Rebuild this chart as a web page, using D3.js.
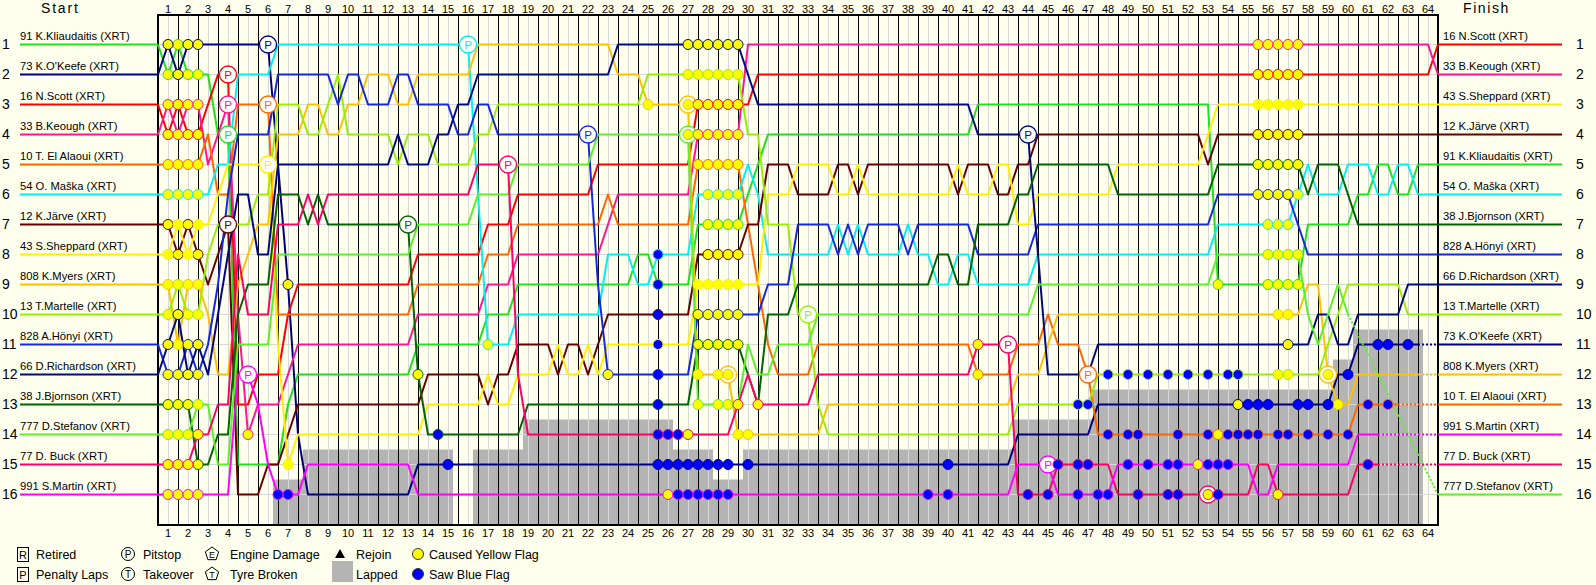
<!DOCTYPE html>
<html>
<head>
<meta charset="utf-8">
<script src="https://cdn.jsdelivr.net/npm/d3@7"></script>
<style>
  body { margin: 0; background: #FFFFEE; }
  svg text { font-family: "Liberation Sans", Arial, sans-serif; }
</style>
</head>
<body>
<div id="chart"></div>
<script>
// grid order (start position 1..16)
const driverLabels = [
  "91 K.Kliaudaitis (XRT)", "73 K.O'Keefe (XRT)", "16 N.Scott (XRT)", "33 B.Keough (XRT)",
  "10 T. El Alaoui (XRT)", "54 O. Maška (XRT)", "12 K.Järve (XRT)", "43 S.Sheppard (XRT)",
  "808 K.Myers (XRT)", "13 T.Martelle (XRT)", "828 A.Hönyi (XRT)", "66 D.Richardson (XRT)",
  "38 J.Bjornson (XRT)", "777 D.Stefanov (XRT)", "77 D. Buck (XRT)", "991 S.Martin (XRT)"
];
const driverColors = [
  "#1EE01E", "#000080", "#FF0000", "#FF1493", "#FF6600", "#00F0F0", "#660000", "#FFEE00",
  "#FFC000", "#99EE00", "#1428DC", "#000A80", "#006400", "#5CF02A", "#FF0066", "#FF00FF"
];
const finishPos = [5, 11, 1, 2, 13, 6, 4, 3, 12, 10, 8, 9, 7, 16, 15, 14];
// last half-lap sample driven (lapped cars stop early)
const lastSample = [128, 126, 128, 128, 124, 128, 128, 128, 126, 128, 128, 128, 128, 119, 122, 122];

// position changes per driver: [half-lap sample, position]
const positionChanges = [
  [[0,1],[1,2],[2,1],[3,2],[6,4],[8,15],[13,13],[14,12],[26,11],[33,10],[36,9],[48,8],[50,9],[54,7],[59,6],[60,5],[61,4],[82,3],[106,9],[115,7],[120,6],[122,5],[124,6],[126,5]],
  [[0,2],[1,1],[2,2],[3,1],[12,5],[13,9],[14,14],[15,16],[26,15],[86,14],[94,13],[118,12],[120,11]],
  [[0,3],[1,4],[2,3],[3,4],[5,3],[6,2],[8,13],[10,12],[13,10],[14,9],[26,8],[33,7],[36,6],[44,5],[54,3],[60,2],[128,1]],
  [[0,4],[1,3],[2,4],[3,3],[5,5],[6,4],[7,3],[8,10],[9,14],[10,13],[13,12],[14,11],[26,10],[33,9],[36,8],[45,7],[46,6],[54,4],[59,1],[128,2]],
  [[0,5],[5,4],[6,6],[8,3],[12,10],[26,9],[33,8],[36,7],[45,6],[46,7],[54,5],[59,7],[60,9],[61,11],[62,12],[66,11],[82,12],[86,11],[89,10],[90,11],[93,12],[94,14],[120,13]],
  [[0,6],[6,5],[8,2],[12,1],[32,6],[33,11],[36,10],[45,8],[48,9],[50,8],[54,6],[59,5],[60,6],[61,8],[68,7],[69,8],[70,7],[71,8],[75,7],[76,8],[78,9],[80,8],[82,9],[88,8],[106,7],[114,6],[115,5],[116,6],[119,5],[122,6],[124,5],[126,6]],
  [[0,7],[2,8],[3,7],[4,8],[5,9],[6,8],[7,7],[8,16],[11,15],[13,14],[14,13],[27,12],[33,13],[34,12],[36,11],[40,12],[41,11],[43,12],[44,11],[45,10],[54,8],[59,7],[61,5],[64,6],[68,5],[70,6],[71,5],[80,6],[81,5],[84,6],[86,5],[88,4],[105,5],[106,4]],
  [[0,8],[2,7],[3,8],[4,7],[6,6],[7,5],[12,11],[13,15],[14,14],[27,13],[33,12],[34,13],[36,12],[40,11],[41,12],[43,11],[44,12],[45,11],[54,9],[61,6],[64,5],[68,6],[70,5],[71,6],[80,5],[81,6],[84,5],[86,7],[88,6],[96,5],[105,4],[106,3]],
  [[0,9],[2,11],[3,9],[5,10],[6,12],[8,9],[9,8],[10,7],[12,4],[15,3],[17,4],[19,3],[21,2],[24,3],[26,2],[32,1],[46,2],[49,3],[54,12],[58,14],[67,13],[86,12],[89,11],[90,10],[115,9],[117,12],[118,13],[120,12]],
  [[0,10],[2,9],[3,10],[5,8],[6,7],[10,6],[12,3],[15,4],[17,3],[18,2],[19,4],[24,5],[25,4],[28,5],[32,4],[34,3],[49,2],[59,4],[61,7],[64,10],[66,13],[67,14],[86,13],[94,12],[117,11],[118,10],[119,9],[125,10]],
  [[0,11],[1,12],[3,11],[4,12],[5,11],[6,9],[7,6],[8,4],[12,2],[18,3],[19,2],[21,3],[24,2],[26,3],[30,4],[32,3],[34,4],[44,9],[45,12],[54,10],[61,9],[64,7],[68,8],[69,7],[70,8],[71,7],[75,8],[76,7],[82,8],[88,7],[106,6],[114,7],[115,8]],
  [[0,12],[1,11],[2,10],[3,12],[4,11],[5,12],[6,10],[7,8],[8,6],[10,8],[12,5],[24,4],[25,5],[28,4],[30,3],[32,2],[46,1],[59,2],[60,3],[82,4],[88,8],[89,12],[94,11],[116,10],[118,11],[120,10],[125,9]],
  [[0,13],[4,15],[6,14],[8,10],[9,9],[12,6],[15,7],[16,6],[17,7],[26,12],[27,14],[37,13],[54,11],[59,12],[60,13],[61,10],[64,9],[78,8],[80,9],[82,7],[86,6],[88,5],[96,6],[106,5],[115,6],[116,5],[119,6],[120,7]],
  [[0,14],[4,13],[6,15],[8,11],[12,8],[26,7],[32,6],[36,5],[44,4],[54,13],[59,11],[60,12],[62,11],[66,10],[88,9],[106,8],[115,10],[116,11],[117,10],[118,9],[119,10]],
  [[0,15],[4,14],[6,13],[8,8],[9,10],[12,7],[15,6],[16,7],[17,6],[32,5],[36,12],[37,14],[58,13],[59,12],[60,13],[66,12],[82,11],[86,16],[90,15],[96,16],[110,15],[112,16],[120,15]],
  [[0,16],[8,12],[10,13],[11,15],[12,16],[15,15],[26,16],[86,15],[90,16],[96,15],[110,16],[112,15],[120,14]]
];

// [driver, sample]
const pitStops = [[0,7],[2,7],[3,7],[6,7],[15,9],[1,11],[4,11],[7,11],[12,25],[5,31],[14,35],[10,43],
  [8,53],[13,53],[8,57],[9,65],[14,85],[11,87],[15,89],[4,93],[14,105],[8,117]];

const startYellow = [1, 2, 3, 4];
const yellowFlags = [
  [55,56,57,58,106,111,112,113,114],
  [13,108],
  [54,55,56,57,58,110,111,112,113,114],
  [9,54,55,56,57,58,110,111,112,113,114],
  [54,55,56,57,58,82,106],
  [33,55,56,57,58,111,112,113,114],
  [55,56,57,58,110,111,112,113,114],
  [13,54,55,56,57,58,110,111,112,113,114],
  [49,53,54,56,57,58,59,112,113,117,118],
  [53,54,55,56,57,58,112,113],
  [45,54,55,56,57,58,110,111,112,113],
  [53,54,55,56,57,58,113],
  [26,54,55,56,57,58,110,111,112,113,114],
  [53,54,56,57,111,112,113,114],
  [53,58,60,82,105,112],
  [51,104]
];
const blueFlags = [
  [50],
  [29,50,51,52,53,54,55,56,57,59,79,109,110,111,114,115,117,119,122,123,125],
  [], [],
  [95,97,98,102,105,107,108,109,110,112,113,115,117,119,121,123],
  [50], [50], [50], [],
  [92,93,95,97,99,101,103,105,107,108],
  [50], [],
  [28,50], [],
  [50,51,52,87,89,90,92,93,98,101,102,106,121],
  [12,13,52,53,54,55,56,57,77,79,92,94,95,97,99,101,102,105,106,107]
];

// lapped area: [first sample, last sample, first lapped position]
const lappedBlocks = [[12,14,16],[15,29,15],[32,36,15],[37,51,14],[52,55,15],[56,58,16],
  [59,85,15],[86,93,14],[94,117,13],[118,119,12],[120,126,11]];

const laps = d3.range(1, 65);

const width = 1596, height = 585;
const svg = d3.select("#chart").append("svg")
  .attr("width", width).attr("height", height);

svg.append("rect").attr("width", width).attr("height", height).attr("fill", "#FFFFEE");

const x = d3.scaleLinear().domain([0, 128]).range([158, 1438]);
const y = d3.scaleLinear().domain([1, 16]).range([44.5, 494.5]);
const lapBand = d3.scaleBand().domain(laps).range([158, 1438]);

function expand(changes) {
  const arr = [];
  let cur = changes[0][1], k = 0;
  for (let i = 0; i <= 128; i++) {
    while (k < changes.length && changes[k][0] <= i) { cur = changes[k][1]; k++; }
    arr.push(cur);
  }
  return arr;
}
const positions = positionChanges.map(expand);

// lapped blocks
svg.append("g").selectAll("rect")
  .data(lappedBlocks)
  .join("rect")
  .attr("x", d => x(d[0] - 0.5))
  .attr("width", d => x(d[1] + 0.5) - x(d[0] - 0.5))
  .attr("y", d => y(d[2]) - 15)
  .attr("height", d => 525 - (y(d[2]) - 15))
  .attr("fill", "#B4B4B4");

// grid
const grid = svg.append("g");
grid.selectAll("line.row")
  .data(d3.range(1, 17))
  .join("line")
  .attr("class", "row")
  .attr("x1", 158).attr("x2", 1438)
  .attr("y1", d => Math.floor(y(d)) + 0.5).attr("y2", d => Math.floor(y(d)) + 0.5)
  .attr("stroke", "#D8D8D8");
grid.selectAll("line.mid")
  .data(laps)
  .join("line")
  .attr("class", "mid")
  .attr("x1", d => lapBand(d) + 10.5).attr("x2", d => lapBand(d) + 10.5)
  .attr("y1", 15).attr("y2", 525)
  .attr("stroke", "#D8D8D8");
grid.selectAll("line.lap")
  .data(laps.slice(0, 63))
  .join("line")
  .attr("class", "lap")
  .attr("x1", d => x(2 * d) + 0.5).attr("x2", d => x(2 * d) + 0.5)
  .attr("y1", 15).attr("y2", 525)
  .attr("stroke", "#000");

svg.append("rect")
  .attr("x", 158).attr("y", 15).attr("width", 1280).attr("height", 510)
  .attr("fill", "none").attr("stroke", "#000").attr("stroke-width", 2);

// lap axes
const axisFont = g => g.selectAll("text")
  .attr("font-size", 11).attr("font-family", "Liberation Sans, Arial, sans-serif").attr("fill", "#000");
svg.append("g")
  .attr("transform", "translate(0,12.5)")
  .call(d3.axisTop(lapBand).tickSize(0).tickPadding(0))
  .call(g => g.select(".domain").remove())
  .call(axisFont);
svg.append("g")
  .attr("transform", "translate(0,529)")
  .call(d3.axisBottom(lapBand).tickSize(0).tickPadding(0))
  .call(g => g.select(".domain").remove())
  .call(axisFont);

svg.append("text").attr("x", 41).attr("y", 13).attr("font-size", 14)
  .style("letter-spacing", "1.8px").text("Start");
svg.append("text").attr("x", 1463).attr("y", 13).attr("font-size", 14)
  .style("letter-spacing", "1.6px").text("Finish");

// position numbers
svg.append("g").selectAll("text")
  .data(d3.range(1, 17))
  .join("text")
  .attr("x", 2).attr("y", d => y(d) + 4)
  .attr("font-size", 14)
  .text(d => d);
svg.append("g").selectAll("text")
  .data(d3.range(1, 17))
  .join("text")
  .attr("x", 1576).attr("y", d => y(d) + 4)
  .attr("font-size", 14)
  .text(d => d);

// start / finish lead-in lines and labels
const drivers = d3.range(16);
svg.append("g").selectAll("line")
  .data(drivers)
  .join("line")
  .attr("x1", 20).attr("x2", 158)
  .attr("y1", d => y(d + 1)).attr("y2", d => y(d + 1))
  .attr("stroke", d => driverColors[d]).attr("stroke-width", 2);
svg.append("g").selectAll("text")
  .data(drivers)
  .join("text")
  .attr("x", 20).attr("y", d => y(d + 1) - 4.5)
  .attr("font-size", 11.2)
  .text(d => driverLabels[d]);
svg.append("g").selectAll("line")
  .data(drivers)
  .join("line")
  .attr("x1", 1438).attr("x2", 1562)
  .attr("y1", d => y(finishPos[d])).attr("y2", d => y(finishPos[d]))
  .attr("stroke", d => driverColors[d]).attr("stroke-width", 2);
svg.append("g").selectAll("text")
  .data(drivers)
  .join("text")
  .attr("x", 1443).attr("y", d => y(finishPos[d]) - 4.5)
  .attr("font-size", 11.2)
  .text(d => driverLabels[d]);

// driver lines
const line = d3.line().x(d => x(d[0])).y(d => y(d[1]));
const lineG = svg.append("g").attr("fill", "none").attr("stroke-width", 2);
drivers.forEach(d => {
  const pts = d3.range(0, lastSample[d] + 1).map(i => [i, positions[d][i]]);
  lineG.append("path")
    .attr("d", line(pts))
    .attr("stroke", driverColors[d])
    .attr("stroke-linejoin", "round");
  if (lastSample[d] < 128) {
    lineG.append("path")
      .attr("d", line([[lastSample[d], positions[d][lastSample[d]]], [128, finishPos[d]]]))
      .attr("stroke", driverColors[d])
      .attr("stroke-dasharray", "2,2");
  }
});

// pit stops
const pitG = svg.append("g").selectAll("g")
  .data(pitStops)
  .join("g")
  .attr("transform", d => `translate(${x(d[1])},${y(positions[d[0]][d[1]])})`);
pitG.append("circle").attr("r", 8.5)
  .attr("fill", "#FFFFFF")
  .attr("stroke", d => driverColors[d[0]]).attr("stroke-width", 1.3);
pitG.append("text").attr("text-anchor", "middle").attr("y", 4)
  .attr("font-size", 11.5)
  .attr("fill", d => driverColors[d[0]])
  .text("P");

// flags
const yellowDots = [], blueDots = [];
drivers.forEach(d => {
  startYellow.concat(yellowFlags[d]).forEach(s => yellowDots.push([d, s]));
  blueFlags[d].forEach(s => blueDots.push([d, s]));
});
svg.append("g").selectAll("circle")
  .data(yellowDots)
  .join("circle")
  .attr("cx", d => x(d[1])).attr("cy", d => y(positions[d[0]][d[1]]))
  .attr("r", 5)
  .attr("fill", "#FFFF00")
  .attr("stroke", d => driverColors[d[0]]);
svg.append("g").selectAll("circle")
  .data(blueDots)
  .join("circle")
  .attr("cx", d => x(d[1])).attr("cy", d => y(positions[d[0]][d[1]]))
  .attr("r", 5)
  .attr("fill", "#0000FF")
  .attr("stroke", d => driverColors[d[0]]);

// legend
const legend = svg.append("g").attr("font-size", 12.5);
[["R", "Retired", 547], ["P", "Penalty Laps", 567]].forEach(([ch, label, ty]) => {
  legend.append("rect").attr("x", 17.5).attr("y", ty + 0.5).attr("width", 11).attr("height", 14)
    .attr("fill", "none").attr("stroke", "#000");
  legend.append("text").attr("x", 23).attr("y", ty + 11.5).attr("text-anchor", "middle")
    .attr("font-size", 11).text(ch);
  legend.append("text").attr("x", 36).attr("y", ty + 12).text(label);
});
[["P", "Pitstop", 554], ["T", "Takeover", 574]].forEach(([ch, label, cy]) => {
  legend.append("circle").attr("cx", 128).attr("cy", cy).attr("r", 6.5)
    .attr("fill", "none").attr("stroke", "#000");
  legend.append("text").attr("x", 128).attr("y", cy + 3.5).attr("text-anchor", "middle")
    .attr("font-size", 10).text(ch);
  legend.append("text").attr("x", 143).attr("y", cy + 5).text(label);
});
[["E", "Engine Damage", 554], ["T", "Tyre Broken", 574]].forEach(([ch, label, cy]) => {
  const pts = d3.range(5).map(k => {
    const a = -Math.PI / 2 + k * 2 * Math.PI / 5;
    return [212 + 7 * Math.cos(a), cy + 7 * Math.sin(a)];
  });
  legend.append("polygon").attr("points", pts.map(p => p.join(",")).join(" "))
    .attr("fill", "none").attr("stroke", "#000");
  legend.append("text").attr("x", 212).attr("y", cy + 3.5).attr("text-anchor", "middle")
    .attr("font-size", 9).text(ch);
  legend.append("text").attr("x", 230).attr("y", cy + 5).text(label);
});
legend.append("polygon").attr("points", "335,558 345,558 340,549").attr("fill", "#000");
legend.append("text").attr("x", 356).attr("y", 559).text("Rejoin");
legend.append("rect").attr("x", 332).attr("y", 561).attr("width", 21).attr("height", 21).attr("fill", "#B4B4B4");
legend.append("text").attr("x", 356).attr("y", 579).text("Lapped");
legend.append("circle").attr("cx", 418).attr("cy", 554).attr("r", 5.5).attr("fill", "#FFFF00").attr("stroke", "#333");
legend.append("text").attr("x", 429).attr("y", 559).text("Caused Yellow Flag");
legend.append("circle").attr("cx", 418).attr("cy", 574).attr("r", 5.5).attr("fill", "#0000FF").attr("stroke", "#333");
legend.append("text").attr("x", 429).attr("y", 579).text("Saw Blue Flag");
</script>
</body>
</html>
